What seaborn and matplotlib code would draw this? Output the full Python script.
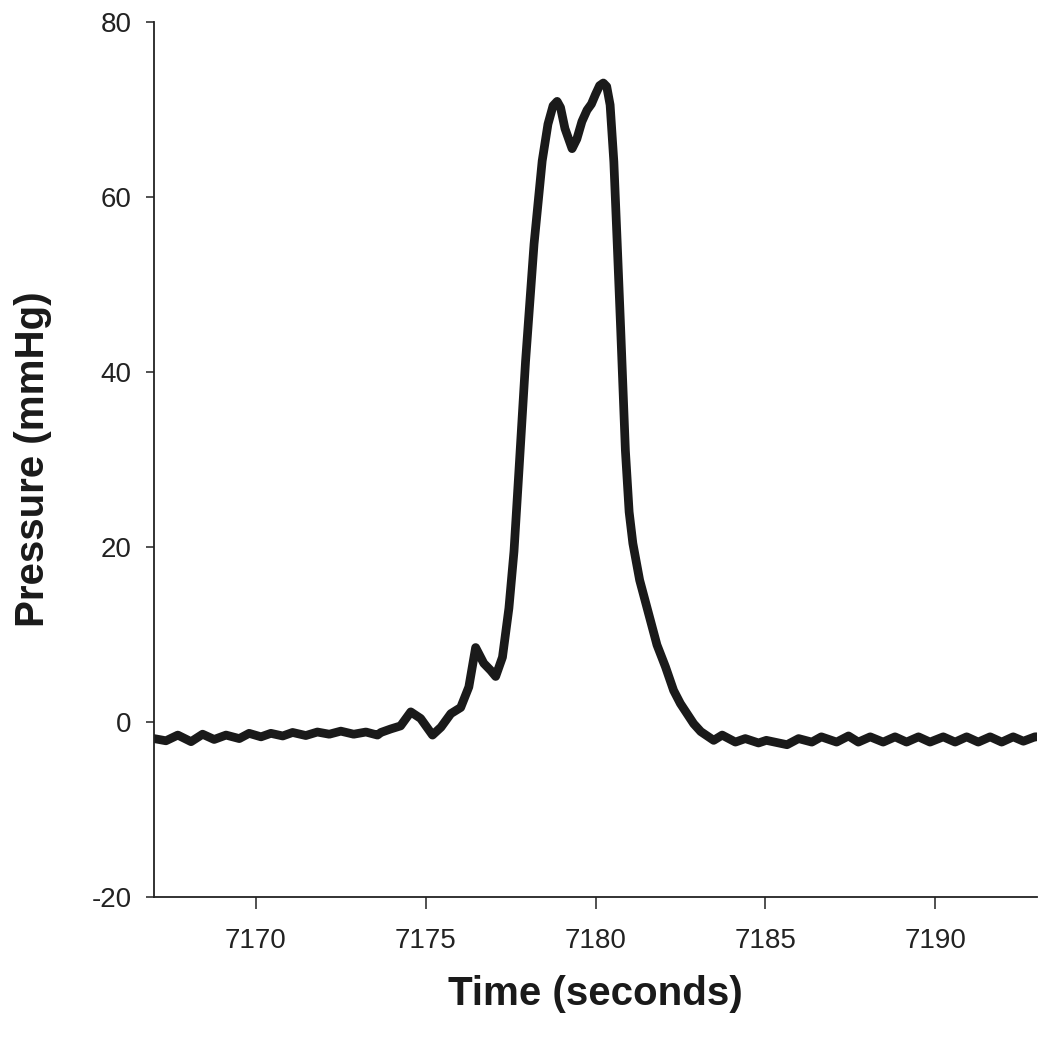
import matplotlib
matplotlib.use("Agg")
import matplotlib.pyplot as plt
import seaborn as sns
import pandas as pd

# Time (s) and pressure (mmHg)
time_s = [
    7167.0, 7167.35, 7167.70, 7168.09, 7168.43, 7168.77, 7169.12, 7169.51,
    7169.80, 7170.15, 7170.44, 7170.79, 7171.08, 7171.47, 7171.81, 7172.16,
    7172.50, 7172.88, 7173.24, 7173.58, 7173.68, 7173.97, 7174.26, 7174.56,
    7174.85, 7175.20, 7175.45, 7175.74, 7176.03, 7176.27, 7176.47, 7176.71,
    7176.91, 7177.06, 7177.26, 7177.45, 7177.60, 7177.75, 7177.94, 7178.19,
    7178.43, 7178.60, 7178.75, 7178.87, 7178.97, 7179.10, 7179.31, 7179.45,
    7179.60, 7179.75, 7179.88, 7180.00, 7180.12, 7180.23, 7180.33, 7180.43,
    7180.54, 7180.64, 7180.74, 7180.88, 7180.99, 7181.10, 7181.30, 7181.61,
    7181.81, 7182.06, 7182.30, 7182.50, 7182.89, 7183.10, 7183.48, 7183.73,
    7184.12, 7184.41, 7184.80, 7185.03, 7185.64, 7185.98, 7186.37, 7186.65,
    7187.10, 7187.45, 7187.74, 7188.09, 7188.47, 7188.82, 7189.16, 7189.51,
    7189.85, 7190.24, 7190.59, 7190.93, 7191.27, 7191.62, 7191.96, 7192.30,
    7192.60, 7192.94, 7193.00,
]
pressure_mmhg = [
    -1.9, -2.15, -1.5, -2.25, -1.4, -2.0, -1.5, -1.9,
    -1.3, -1.7, -1.3, -1.6, -1.2, -1.55, -1.15, -1.4,
    -1.05, -1.4, -1.15, -1.5, -1.2, -0.8, -0.45, 1.15,
    0.4, -1.5, -0.6, 0.95, 1.65, 4.0, 8.5, 6.7,
    5.9, 5.2, 7.4, 13.0, 19.5, 29.0, 41.2, 54.6,
    64.1, 68.3, 70.4, 70.9, 70.2, 67.8, 65.5, 66.6,
    68.6, 69.9, 70.6, 71.7, 72.7, 73.0, 72.6, 70.5,
    64.0, 54.6, 45.0, 31.0, 24.0, 20.4, 16.2, 11.7,
    8.8, 6.3, 3.6, 2.1, -0.2, -1.1, -2.1, -1.5,
    -2.3, -1.9, -2.4, -2.1, -2.6, -1.9, -2.3, -1.7,
    -2.3, -1.6, -2.3, -1.7, -2.3, -1.7, -2.3, -1.7,
    -2.3, -1.7, -2.3, -1.7, -2.3, -1.7, -2.3, -1.7,
    -2.2, -1.7, -1.7,
]
x_ticks = [7170, 7175, 7180, 7185, 7190]
y_ticks = [-20, 0, 20, 40, 60, 80]

sns.set_style("ticks")
plt.rcParams["font.family"] = ["Liberation Sans", "DejaVu Sans"]
plt.rcParams["axes.unicode_minus"] = False

df = pd.DataFrame({"Time": time_s, "Pressure": pressure_mmhg})

fig = plt.figure(figsize=(10.5, 10.5), dpi=100)
ax = fig.add_axes([0.1467, 0.1457, 0.9876 - 0.1467, 0.9793 - 0.1457])

sns.lineplot(data=df, x="Time", y="Pressure", ax=ax, color="#1a1a1a",
             linewidth=6.3, sort=False, estimator=None,
             solid_joinstyle="round", solid_capstyle="round")

ax.set_xlim(7167, 7193)
ax.set_ylim(-20, 80)
ax.set_xticks(x_ticks)
ax.set_yticks(y_ticks)
ax.tick_params(axis="x", length=8.5, width=1.1, pad=14, labelsize=20,
               colors="#222222")
ax.tick_params(axis="y", length=6, width=1.1, pad=10, labelsize=20,
               colors="#222222")
for s in ["top", "right"]:
    ax.spines[s].set_visible(False)
for s in ["left", "bottom"]:
    ax.spines[s].set_linewidth(1.3)
    ax.spines[s].set_color("#222222")

ax.set_xlabel("Time (seconds)", fontsize=29, fontweight="bold", color="#1a1a1a")
ax.set_ylabel("Pressure (mmHg)", fontsize=29, fontweight="bold", color="#1a1a1a")
ax.xaxis.set_label_coords(0.5, -0.089)
ax.xaxis.label.set_verticalalignment("top")
ax.yaxis.set_label_coords(-0.1155, 0.5)

fig.savefig("out.png", dpi=100, facecolor="white")
